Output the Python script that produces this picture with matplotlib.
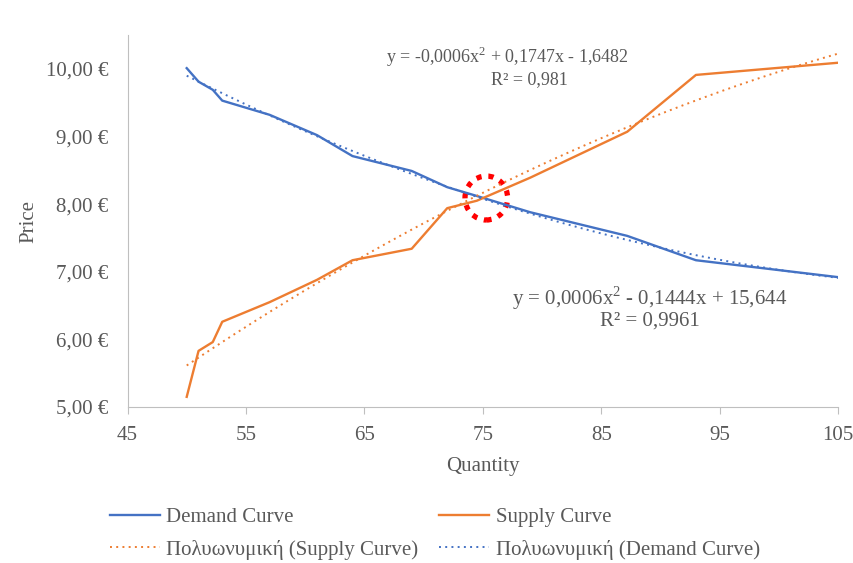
import numpy as np
import matplotlib
matplotlib.use("Agg")
import matplotlib.pyplot as plt
from matplotlib.patches import Ellipse
from matplotlib.ticker import FuncFormatter

plt.rcParams['font.family'] = ['Liberation Serif', 'DejaVu Serif']
plt.rcParams['mathtext.fontset'] = 'custom'
plt.rcParams['mathtext.rm'] = 'Liberation Serif'

# quantity / price observations
quantity = [50, 51, 52.2, 53, 57, 61, 64, 69, 72, 74.5, 79, 87.2, 93, 105]
demand = [10.01, 9.81, 9.69, 9.53, 9.32, 9.02, 8.71, 8.49, 8.25, 8.12, 7.88, 7.53, 7.17, 6.92]
supply = [5.15, 5.83, 5.96, 6.26, 6.55, 6.88, 7.17, 7.34, 7.94, 8.05, 8.39, 9.07, 9.91, 10.09]

supply_eq = "y = -0,0006x$^{\\mathregular{2}}$ + 0,1747x - 1,6482"
supply_r2 = "R² = 0,981"
demand_eq = "y = 0,0006x$^{\\mathregular{2}}$ - 0,1444x + 15,644"
demand_r2 = "R² = 0,9961"

blue = '#4472C4'
orange = '#ED7D31'
grey = '#595959'
fs = 15

fig = plt.figure(figsize=(8.54, 5.63), dpi=100)
ax = fig.add_axes([0.1493, 0.2771, 0.832, 0.6607])

# 2nd order trendlines
xs = np.linspace(min(quantity), max(quantity), 200)
d_fit = np.polyval(np.polyfit(quantity, demand, 2), xs)
s_fit = np.polyval(np.polyfit(quantity, supply, 2), xs)

l1, = ax.plot(quantity, demand, color=blue, lw=1.7, label='Demand Curve')
l2, = ax.plot(quantity, supply, color=orange, lw=1.7, label='Supply Curve')
l3, = ax.plot(xs, s_fit, color=orange, lw=1.4, ls=(0, (1, 2.2)), label='Πολυωνυμική (Supply Curve)')
l4, = ax.plot(xs, d_fit, color=blue, lw=1.4, ls=(0, (1, 2.2)), label='Πολυωνυμική (Demand Curve)')

# equilibrium marker
ax.add_patch(Ellipse((75.3, 8.09), 3.6, 0.65, fill=False, ec='red', lw=3.8, ls=(0, (1, 1.3))))

ax.text(77.05, 10.18, supply_eq, ha='center', va='center', fontsize=13, color=grey)
ax.text(78.9, 9.84, supply_r2, ha='center', va='center', fontsize=13, color=grey)
ax.text(89.1, 6.61, demand_eq, ha='center', va='center', fontsize=fs, color=grey)
ax.text(89.1, 6.27, demand_r2, ha='center', va='center', fontsize=fs, color=grey)

ax.set_xlim(45, 105)
ax.set_ylim(5, 10.5)
ax.set_xticks(range(45, 106, 10))
ax.set_yticks(range(5, 11))
ax.yaxis.set_major_formatter(FuncFormatter(lambda v, p: f"{v:.2f}".replace('.', ',') + " €"))

for s in ['top', 'right']:
    ax.spines[s].set_visible(False)
for s in ['left', 'bottom']:
    ax.spines[s].set_color('#BFBFBF')
ax.tick_params(axis='x', direction='out', length=5, color='#BFBFBF', labelsize=fs, labelcolor=grey, pad=9)
ax.tick_params(axis='y', length=0, labelsize=fs, labelcolor=grey, pad=14)

ax.set_xlabel('Quantity', fontsize=fs, color=grey, labelpad=8)
ax.set_ylabel('Price', fontsize=fs, color=grey, labelpad=5)

fig.legend(handles=[l1, l3, l2, l4], ncol=2, loc='center left', bbox_to_anchor=(0.107, 0.0524),
           frameon=False, fontsize=fs, labelcolor=grey, handlelength=2.4, columnspacing=1.0,
           handletextpad=0.3, labelspacing=0.6)

fig.savefig('out.png', dpi=100)
